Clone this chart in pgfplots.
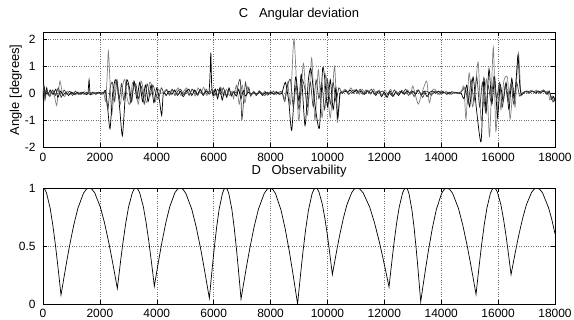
\documentclass[border=0pt]{standalone}
\usepackage{fontspec}
\setmainfont{Liberation Sans}
\usepackage{pgfplots}
\pgfplotsset{compat=1.18}
\pgfplotsset{mstyle/.style={
  scale only axis, width=512bp,
  xmin=0, xmax=18000, xtick={0,2000,...,18000},
  scaled x ticks=false, scaled y ticks=false,
  /pgf/number format/assume math mode=true,
  xticklabel style={/pgf/number format/fixed,/pgf/number format/1000 sep={},font=\fontsize{12}{14}\selectfont},
  yticklabel style={font=\fontsize{12}{14}\selectfont, xshift=-4bp},
  tick align=inside, major tick length=4bp,
  grid=major, grid style={dotted, black!55, line width=0.5bp},
  axis line style={black, line width=0.6bp},
  tick style={black, line width=0.5bp},
  title style={at={(0.5,1)}, anchor=base, inner sep=0pt, font=\fontsize{13}{15}\selectfont},
  every axis plot/.append style={line width=0.7bp, mark=none},
}}
\begin{document}
\begin{tikzpicture}
\begin{axis}[mstyle, at={(0,0)}, anchor=north west, height=115.5bp,
  ymin=-2, ymax=2.26, ytick={-2,-1,0,1,2},
  xticklabel style={yshift=-2.5bp},
  title={C\ \ \ Angular deviation}, title style={yshift=9bp},
]
% series A (grey)
\addplot[black!50, smooth, tension=0.4] coordinates {
(0,0.0) (40,0.2) (80,-0.15) (120,0.1) (200,-0.08) (300,0.08) (400,-0.1) (480,-0.45) (540,0.05) (600,0.45) (680,0.0) (760,-0.12) (850,0.08) (950,-0.04) (1050,0.04) (1150,-0.06) (1250,0.04) (1350,-0.04) (1450,0.06) (1550,0.0) (1650,0.04) (1750,-0.04) (1850,0.04) (1950,0.0) (2050,0.04) (2150,-0.05)
(2200,-0.3) (2250,0.5) (2300,1.55) (2360,0.3) (2410,-0.8) (2480,-0.2) (2560,0.45) (2640,0.0) (2720,-0.4) (2800,0.3) (2880,0.5) (2960,-0.2) (3050,-0.4) (3150,0.4) (3250,0.3) (3350,-0.4) (3450,0.45) (3550,0.0) (3650,-0.35) (3750,0.4) (3850,0.2) (3950,-0.3) (4050,0.15) (4150,0.0)
(4250,0.05) (4350,0.15) (4450,-0.08) (4550,0.12) (4650,0.04) (4750,0.2) (4850,-0.08) (4950,0.08) (5050,0.2) (5150,-0.04) (5250,0.15) (5350,-0.1) (5450,0.2) (5550,0.0) (5650,0.22) (5750,-0.08) (5850,0.08) (5950,0.0) (6050,0.15) (6150,-0.08) (6250,0.22) (6350,-0.1) (6450,0.15) (6550,-0.08) (6650,0.08) (6700,-0.2) (6800,0.3) (6900,-0.4) (7000,0.3) (7100,-0.35) (7200,0.25) (7300,-0.12) (7400,0.08) (7500,-0.08) (7600,0.1) (7700,-0.04) (7800,0.08) (7900,-0.08) (8000,0.08) (8100,-0.04) (8200,0.08) (8300,-0.04) (8400,0.05)
(8500,-0.2) (8600,0.4) (8700,-0.4) (8825,2.0) (8990,-1.0) (9153,1.1) (9300,-0.8) (9446,1.3) (9560,-1.0) (9680,0.87) (9810,-0.9) (9940,0.69) (10100,-0.9) (10250,1.0) (10348,-1.07) (10450,0.0)
(10520,0.05) (10620,0.15) (10720,0.0) (10820,0.2) (10920,0.05) (11020,0.15) (11120,-0.04) (11220,0.15) (11320,0.0) (11420,0.12) (11520,-0.04) (11620,0.15) (11720,0.0) (11820,0.12) (11920,-0.08) (12020,0.12) (12120,-0.04) (12220,0.15) (12320,-0.08) (12420,0.08) (12520,-0.04) (12620,0.12) (12720,0.0) (12820,0.12) (12920,-0.04) (13000,0.27) (13100,-0.1) (13200,-0.4) (13350,0.1) (13490,0.45) (13580,-0.35) (13680,0.1) (13780,0.15) (13880,-0.04) (13980,0.08) (14080,0.0) (14180,0.08) (14280,-0.04) (14380,0.08) (14480,0.0) (14580,0.04) (14700,0.05)
(14800,0.25) (14870,-0.95) (14980,0.75) (15100,-0.5) (15200,0.2) (15300,1.15) (15400,-1.0) (15500,-0.2) (15600,0.5) (15700,-1.6) (15830,1.7) (15920,-1.4) (16020,0.2) (16100,-0.6) (16200,0.45) (16330,0.57) (16420,-0.95) (16530,0.2) (16600,-0.5) (16710,1.5) (16800,0.0)
(16850,-0.04) (16950,0.08) (17050,0.0) (17150,0.12) (17250,0.04) (17350,0.12) (17450,0.0) (17550,0.12) (17650,0.04) (17750,0.08) (17820,-0.25) (17900,-0.1) (17950,-0.28) (18000,-0.2)
};
% series B (black)
\addplot[black, smooth, tension=0.4] coordinates {
(0,0.0) (20,-0.3) (50,0.2) (90,-0.1) (130,0.2) (180,-0.05) (250,0.12) (350,-0.04) (450,0.15) (520,-0.15) (620,0.08) (700,-0.08) (800,0.04) (900,-0.08) (1000,0.04) (1100,-0.04) (1200,0.04) (1300,-0.04) (1400,0.04) (1500,-0.04) (1580,0.0) (1620,0.5) (1660,-0.05) (1760,0.04) (1860,-0.04) (1960,0.04) (2060,0.0) (2150,0.05)
(2200,0.1) (2270,-0.5) (2356,-1.31) (2450,0.0) (2540,0.5) (2620,0.3) (2700,-0.6) (2790,-1.57) (2880,-0.3) (2950,0.5) (3040,0.2) (3120,-0.3) (3200,0.45) (3300,-0.2) (3400,0.4) (3500,-0.3) (3600,0.3) (3700,-0.3) (3800,0.3) (3900,-0.35) (4000,0.2) (4100,-0.3) (4173,-0.82) (4230,0.0)
(4330,-0.08) (4430,0.08) (4530,-0.04) (4630,0.12) (4730,-0.08) (4830,0.08) (4930,-0.12) (5030,0.04) (5130,0.15) (5230,-0.08) (5330,0.12) (5430,-0.04) (5530,0.15) (5630,-0.08) (5730,0.08) (5830,0.0) (5870,0.6) (5900,1.5) (5930,0.3) (5980,-0.1) (6060,0.15) (6140,-0.2) (6220,0.2) (6300,-0.25) (6380,0.1) (6460,-0.15) (6540,0.2) (6620,-0.1) (6700,0.05) (6800,-0.1) (6880,0.15) (6960,-0.2) (7040,0.1) (7120,-0.1) (7220,0.04) (7320,-0.04) (7420,0.04) (7520,-0.04) (7620,0.04) (7720,-0.08) (7820,0.04) (7920,-0.04) (8020,0.04) (8120,-0.04) (8220,0.04) (8320,-0.04) (8400,0.0)
(8520,0.4) (8640,-0.3) (8744,-1.37) (8880,0.6) (9000,-0.3) (9080,0.7) (9212,-1.19) (9330,0.5) (9420,0.9) (9560,-0.4) (9715,-1.29) (9830,0.9) (9900,0.6) (10000,-0.5) (10100,0.5) (10200,-0.6) (10300,0.2) (10360,-0.9) (10440,0.0)
(10520,0.0) (10600,0.08) (10700,0.04) (10800,0.12) (10900,0.0) (11000,0.12) (11100,0.04) (11200,0.08) (11300,-0.04) (11400,0.08) (11500,0.0) (11600,0.08) (11700,-0.08) (11800,0.08) (11900,-0.12) (12000,0.04) (12100,-0.15) (12200,0.08) (12300,-0.12) (12400,0.04) (12500,-0.08) (12600,0.08) (12700,-0.04) (12800,0.08) (12900,0.0) (13000,0.08) (13100,-0.04) (13200,0.12) (13300,-0.08) (13400,0.08) (13500,-0.12) (13600,0.04) (13700,0.08) (13800,0.0) (13900,0.08) (14000,0.0) (14100,0.04) (14200,-0.04) (14300,0.04) (14400,0.0) (14500,0.04) (14600,0.0) (14700,0.0)
(14800,-0.2) (14900,0.3) (15000,-0.5) (15120,0.6) (15240,-0.6) (15400,-1.79) (15500,0.57) (15580,-0.7) (15680,0.9) (15780,-0.4) (15880,0.6) (15980,-0.9) (16070,0.33) (16180,-0.3) (16280,0.4) (16380,-0.6) (16480,0.55) (16560,-0.2) (16640,0.6) (16700,1.4) (16760,0.3) (16820,-0.05)
(16920,0.04) (17020,0.08) (17120,0.04) (17220,0.08) (17320,0.0) (17420,0.08) (17520,0.04) (17620,0.08) (17720,-0.04) (17800,0.08) (17880,-0.22) (17950,-0.12) (18000,-0.28)
};
% series C (dark grey)
\addplot[black!75, smooth, tension=0.4] coordinates {
(0,0.0) (30,0.3) (70,-0.25) (110,0.1) (160,0.05) (240,-0.12) (340,0.12) (440,-0.08) (540,0.2) (640,-0.15) (740,0.12) (840,-0.04) (940,0.08) (1040,-0.08) (1140,0.08) (1240,-0.04) (1340,0.04) (1440,-0.04) (1540,0.04) (1640,-0.04) (1740,0.04) (1840,0.0) (1940,0.04) (2040,-0.04) (2150,0.0)
(2200,0.05) (2280,-0.6) (2360,0.2) (2440,0.4) (2520,-0.3) (2600,0.5) (2680,-0.2) (2760,0.35) (2840,-0.25) (2920,0.3) (3000,0.3) (3080,-0.35) (3160,0.1) (3260,0.35) (3360,-0.2) (3460,0.25) (3560,-0.4) (3660,0.35) (3760,-0.1) (3860,0.3) (3960,0.0) (4060,-0.2) (4160,0.2) (4250,0.0)
(4340,0.12) (4440,-0.04) (4540,0.15) (4640,-0.08) (4740,0.08) (4840,0.15) (4940,-0.04) (5040,0.12) (5140,-0.08) (5240,0.15) (5340,0.04) (5440,-0.08) (5540,0.12) (5640,-0.04) (5740,0.15) (5840,-0.04) (5940,0.15) (6040,-0.08) (6140,0.15) (6240,-0.04) (6340,0.2) (6440,-0.08) (6540,0.12) (6640,-0.04) (6720,0.08) (6800,0.0) (6880,0.4) (6940,0.45) (6990,-0.97) (7060,-0.2) (7120,0.4) (7180,0.0) (7240,0.2) (7300,-0.08) (7400,0.04) (7500,-0.08) (7600,0.08) (7700,0.0) (7800,-0.08) (7900,0.04) (8000,-0.04) (8100,0.08) (8200,-0.04) (8300,0.04) (8400,0.05)
(8500,-0.3) (8600,0.3) (8700,0.5) (8800,-0.5) (8900,0.3) (9000,-0.6) (9100,0.5) (9200,0.2) (9300,-0.5) (9400,0.4) (9500,-0.5) (9600,0.5) (9700,-0.2) (9800,0.4) (9900,-0.6) (10000,0.5) (10100,-0.4) (10200,0.4) (10300,-0.3) (10400,0.2) (10520,0.0)
(10650,0.12) (10750,-0.04) (10850,0.08) (10950,0.12) (11050,0.0) (11150,0.15) (11250,-0.04) (11350,0.12) (11450,0.04) (11550,0.15) (11650,-0.04) (11750,0.08) (11850,0.04) (11950,0.08) (12050,-0.12) (12150,0.04) (12250,-0.08) (12350,0.12) (12450,-0.04) (12550,0.08) (12650,0.0) (12750,0.15) (12850,-0.08) (12950,0.08) (13050,-0.12) (13150,0.12) (13250,0.04) (13350,-0.15) (13450,0.08) (13550,0.04) (13650,-0.08) (13750,0.08) (13850,0.04) (13950,-0.04) (14050,0.08) (14150,0.0) (14250,0.04) (14350,-0.04) (14450,0.04) (14550,0.0) (14700,0.05)
(14850,0.2) (14950,-0.4) (15050,0.5) (15150,-0.3) (15250,0.6) (15350,-0.5) (15450,0.4) (15560,-0.7) (15650,0.3) (15750,-0.3) (15850,0.6) (15950,-0.2) (16050,0.4) (16150,-0.5) (16250,0.3) (16350,-0.3) (16450,0.35) (16550,-0.4) (16650,0.4) (16750,-0.1) (16820,0.0)
(16900,0.04) (17000,0.08) (17100,0.0) (17200,0.08) (17300,0.04) (17400,0.08) (17500,0.0) (17600,0.12) (17700,0.0) (17780,0.08) (17850,-0.1) (17930,-0.32) (18000,-0.25)
};
\end{axis}
\node[rotate=90, anchor=south, inner sep=0pt, font=\fontsize{13}{15}\selectfont] at (-21bp,-57.75bp) {Angle [degrees]};
\begin{axis}[mstyle, at={(0,-156bp)}, anchor=north west, height=116bp,
  ymin=0, ymax=1, ytick={0,0.5,1},
  xticklabel style={yshift=-1.5bp},
  title={D\ \ \ Observability}, title style={yshift=7.5bp},
]
\addplot[black] coordinates {
(0,1) (63,0.989) (127,0.955) (253,0.824) (348,0.676) (443,0.496) (506,0.362) (570,0.221) (633,0.077)
(732,0.221) (830,0.362) (929,0.496) (1077,0.676) (1225,0.824) (1423,0.955) (1521,0.989) (1620,1)
(1719,0.99) (1819,0.958) (2017,0.835) (2166,0.696) (2315,0.527) (2414,0.402) (2514,0.269) (2613,0.134)
(2679,0.269) (2744,0.402) (2810,0.527) (2909,0.696) (3007,0.835) (3139,0.958) (3204,0.99) (3270,1)
(3334,0.99) (3399,0.959) (3528,0.838) (3624,0.703) (3721,0.538) (3785,0.415) (3850,0.286) (3914,0.154)
(4004,0.286) (4095,0.415) (4185,0.538) (4320,0.703) (4456,0.838) (4636,0.959) (4727,0.99) (4817,1)
(4920,0.989) (5023,0.953) (5229,0.818) (5384,0.666) (5539,0.481) (5642,0.343) (5745,0.197) (5848,0.049)
(5905,0.197) (5963,0.343) (6020,0.481) (6107,0.666) (6193,0.818) (6308,0.953) (6365,0.989) (6423,1)
(6477,0.989) (6531,0.953) (6639,0.817) (6719,0.664) (6800,0.477) (6854,0.339) (6908,0.192) (6962,0.043)
(7064,0.192) (7166,0.339) (7268,0.477) (7421,0.664) (7573,0.817) (7777,0.953) (7879,0.989) (7981,1)
(8078,0.988) (8175,0.951) (8369,0.809) (8514,0.649) (8659,0.454) (8756,0.309) (8853,0.156) (8950,0.0)
(9014,0.156) (9078,0.309) (9141,0.454) (9237,0.649) (9333,0.809) (9460,0.951) (9524,0.988) (9588,1)
(9647,0.991) (9705,0.963) (9822,0.858) (9910,0.738) (9998,0.593) (10056,0.485) (10115,0.370) (10173,0.254)
(10259,0.370) (10344,0.485) (10430,0.593) (10558,0.738) (10687,0.858) (10858,0.963) (10943,0.991) (11029,1)
(11143,0.99) (11256,0.958) (11483,0.837) (11654,0.701) (11824,0.535) (11938,0.411) (12051,0.281) (12165,0.148)
(12225,0.281) (12285,0.411) (12344,0.535) (12434,0.701) (12524,0.837) (12643,0.958) (12703,0.99) (12763,1)
(12815,0.988) (12866,0.952) (12969,0.813) (13047,0.656) (13124,0.465) (13176,0.323) (13227,0.173) (13279,0.02)
(13370,0.173) (13462,0.323) (13553,0.465) (13690,0.656) (13827,0.813) (14010,0.952) (14102,0.988) (14193,1)
(14296,0.989) (14399,0.955) (14605,0.825) (14760,0.678) (14915,0.499) (15018,0.366) (15121,0.226) (15224,0.083)
(15287,0.226) (15351,0.366) (15414,0.499) (15509,0.678) (15604,0.825) (15730,0.955) (15794,0.989) (15857,1)
(15917,0.991) (15977,0.963) (16096,0.858) (16186,0.738) (16276,0.593) (16335,0.485) (16395,0.370) (16455,0.254)
(16545,0.370) (16636,0.485) (16726,0.593) (16862,0.738) (16997,0.858) (17178,0.963) (17269,0.991) (17359,1)
(17463,0.989) (17567,0.956) (17775,0.828) (17880,0.736) (18000,0.606)
};
\end{axis}
\pgfresetboundingbox
\path[use as bounding box] (-43bp,32bp) rectangle (531bp,-288bp);
\end{tikzpicture}
\end{document}
